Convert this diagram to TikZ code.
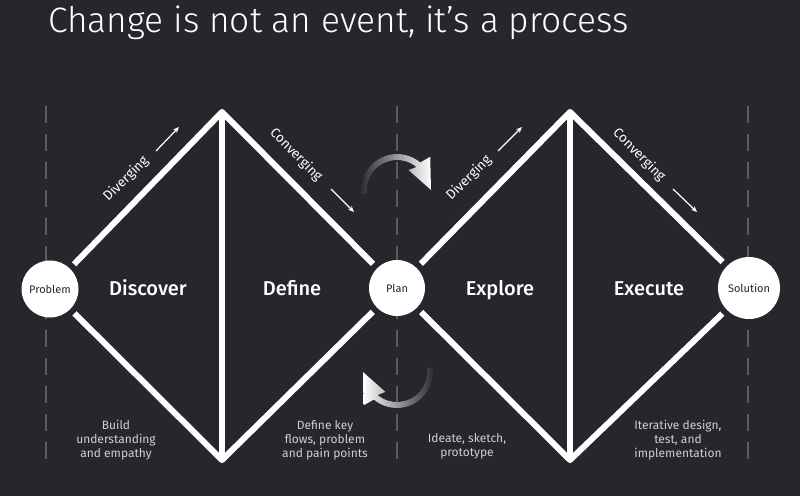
\documentclass[tikz,border=0pt]{standalone}
\usepackage{fontspec}
\setmainfont{Fira Sans}
\newfontfamily\titlefont{Fira Sans Light}
\newfontfamily\stagefont{Fira Sans Medium}
\usetikzlibrary{calc,arrows.meta}
\definecolor{bg}{RGB}{38,39,44}
\definecolor{guidegray}{RGB}{92,93,98}
\definecolor{notegray}{RGB}{208,208,211}

\begin{document}
\begin{tikzpicture}[x=1pt,y=1pt]
    \fill[bg] (0,0) rectangle (800,-496);
    \useasboundingbox (0,0) rectangle (800,-496);

    % title
    \node[anchor=base west,inner sep=0pt,text=white,font=\titlefont\fontsize{35.3}{40}\selectfont] (title) at (48,-32) {Change is not an event, it’s a process};

    % corner points of the two diamonds
    \coordinate (top1) at (222,-112);
    \coordinate (bot1) at (222,-460);
    \coordinate (top2) at (570,-112);
    \coordinate (bot2) at (570,-460);

    % dashed guides
    \begin{scope}[every path/.style={draw=guidegray,line width=2.4pt,dash pattern=on 17pt off 11pt}]
      \coordinate (ga) at (46,-106);  \coordinate (gb) at (46,-462);
      \coordinate (gc) at (397,-106); \coordinate (gd) at (397,-462);
      \coordinate (ge) at (748,-106); \coordinate (gf) at (748,-462);
      \path (ga) -- (gb);
      \path (gc) -- (gd);
      \path (ge) -- (gf);
    \end{scope}

    \begin{scope}[every node/.style={circle,fill=white,text=bg,inner sep=0pt,outer sep=6pt,font=\fontsize{11}{13}\selectfont}]
      \node[minimum size=57pt] (problem) at (50,-289) {Problem};
      \node[minimum size=56pt] (plan) at (397,-288) {Plan};
      \node[minimum size=62pt] (solution) at (749,-288) {Solution};
    \end{scope}

    \begin{scope}[every path/.style={draw=white,line width=6pt,line join=round}]
      \path (problem) -- (top1) -- (plan);
      \path (problem) -- (bot1) -- (plan);
      \path (top1) -- (bot1);
      \path (plan) -- (top2) -- (solution);
      \path (plan) -- (bot2) -- (solution);
      \path (top2) -- (bot2);
    \end{scope}

    \begin{scope}[every node/.style={text=white,text height=14pt,text depth=4pt,font=\stagefont\fontsize{20}{24}\selectfont}]
      \node (discover) at (148,-290) {Discover};
      \node (define) at (292,-290) {Define};
      \node (explore) at (500,-290) {Explore};
      \node (execute) at (649,-290) {Execute};
    \end{scope}

    % diverging / converging hints
    \begin{scope}[every node/.style={text=white,inner sep=0pt,font=\fontsize{13.5}{16}\selectfont}]
      \node[rotate=45] (div1) at (126,-179) {Diverging};
      \node[rotate=-45] (con1) at (296,-155) {Converging};
      \node[rotate=45] (div2) at (469,-178) {Diverging};
      \node[rotate=-45] (con2) at (639,-155) {Converging};
    \end{scope}
    \coordinate (d1a) at (156,-151); \coordinate (d1b) at (179,-127);
    \coordinate (c1a) at (331,-189); \coordinate (c1b) at (354,-212);
    \coordinate (d2a) at (498,-151); \coordinate (d2b) at (522,-127);
    \coordinate (c2a) at (673,-189); \coordinate (c2b) at (697,-212);
    \begin{scope}[every edge/.style={draw=white,line width=1.2pt,-{Stealth[length=6pt,width=5pt]}}]
      \path (d1a) edge (d1b);
      \path (c1a) edge (c1b);
      \path (d2a) edge (d2b);
      \path (c2a) edge (c2b);
    \end{scope}

    % loop arrows round the plan
    \coordinate (up) at (397,-190);
    \coordinate (lo) at (397,-372);
    \fill[left color=bg,right color=white]
      ($(up)+(188:36)$) arc[start angle=188,end angle=50,radius=36]
      -- ($(up)+(45:47)$) -- ($(up)+(0:34)$) -- ($(up)+(60:23)$)
      -- ($(up)+(50:30)$) arc[start angle=50,end angle=188,radius=30] -- cycle;
    \fill[left color=white,right color=bg]
      ($(lo)+(8:36)$) arc[start angle=8,end angle=-130,radius=36]
      -- ($(lo)+(-135:47)$) -- ($(lo)+(180:34)$) -- ($(lo)+(-120:23)$)
      -- ($(lo)+(-130:30)$) arc[start angle=-130,end angle=8,radius=30] -- cycle;

    % notes under the diamonds
    \begin{scope}[every node/.style={text=notegray,align=center,font=\fontsize{12}{14}\selectfont}]
      \node (n1) at (116,-440) {Build\\understanding\\and empathy};
      \node (n2) at (325,-440) {Define key\\flows, problem\\and pain points};
      \node (n3) at (467,-446) {Ideate, sketch,\\prototype};
      \node (n4) at (678,-440) {Iterative design,\\test, and\\implementation};
    \end{scope}
\end{tikzpicture}
\end{document}
